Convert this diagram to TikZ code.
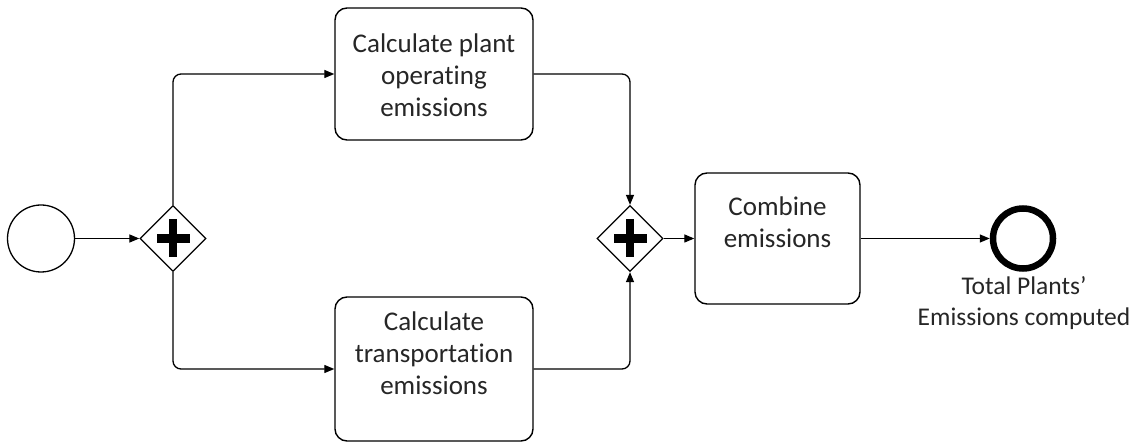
\documentclass[tikz,border=0pt]{standalone}
\usepackage{fontspec}
\setmainfont{Carlito}[Ligatures={NoCommon}]
\usetikzlibrary{arrows.meta,shapes.geometric}
\begin{document}
\begin{tikzpicture}[x=1pt,y=-1pt,
  flow/.style={line width=1.3pt,rounded corners=8pt,-{Triangle[length=10pt,width=8pt]}},
  task/.style={draw,line width=1.4pt,rounded corners=12pt,inner sep=0pt},
  tasktext/.style={align=center,font=\fontsize{27}{32}\selectfont,inner sep=0pt,text=black!85},
  gate/.style={draw,diamond,line width=1.3pt,inner sep=0pt,minimum width=66pt,minimum height=66pt,fill=white},
  startev/.style={draw,circle,line width=1.3pt,minimum size=67pt,inner sep=0pt},
  endev/.style={draw,circle,line width=6.5pt,minimum size=60pt,inner sep=0pt},
  evlabel/.style={align=center,font=\fontsize{25.5}{31}\selectfont,inner sep=0pt,text=black!85}]
\useasboundingbox[fill=white] (0,0) rectangle (1143,443);

% events
\node[startev] (start) at (41,238.5) {};
\node[endev] (end) at (1023,238.5) {};
\node[evlabel] (endlbl) at (1024,303) {Total Plants’\\Emissions computed};

% parallel gateways with plus markers
\foreach \n/\x in {split/173,join/630}{
  \node[gate] (\n) at (\x,238.5) {};
  \fill ([xshift=-16.5pt,yshift=-4.2pt]\n.center) rectangle ([xshift=16.5pt,yshift=4.2pt]\n.center);
  \fill ([xshift=-4pt,yshift=-19pt]\n.center) rectangle ([xshift=4pt,yshift=19pt]\n.center);
}

% tasks
\node[task,minimum width=198pt,minimum height=132pt] (plant) at (434,74) {};
\node[tasktext] (plantlbl) at (434,75) {Calculate plant\\operating\\emissions};
\node[task,minimum width=198pt,minimum height=144pt] (trans) at (434,369) {};
\node[tasktext] (translbl) at (434,353) {Calculate\\transportation\\emissions};
\node[task,minimum width=165pt,minimum height=131pt] (comb) at (777.5,238.5) {};
\node[tasktext] (comblbl) at (777.5,222) {Combine\\emissions};

% sequence flows
\draw[flow] (start) -- (split);
\draw[flow] (split.north) |- (plant.west);
\draw[flow] (split.south) |- (trans.west);
\draw[flow] (plant.east) -| (join.north);
\draw[flow] (trans.east) -| (join.south);
\draw[flow] (join) -- (comb);
\draw[flow] (comb) -- (end);
\end{tikzpicture}
\end{document}
